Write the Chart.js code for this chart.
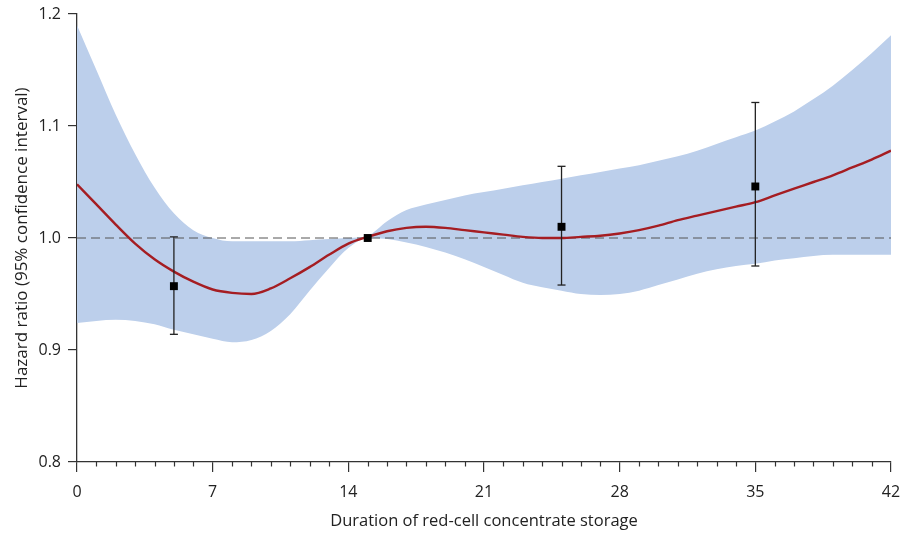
<!DOCTYPE html>
<html><head><meta charset="utf-8">
<script src="https://cdn.jsdelivr.net/npm/chart.js@4"></script>
<style>html,body{margin:0;padding:0;background:#fff}#wrap{width:906px;height:535px;position:relative}</style>
</head><body><div id="wrap"><canvas id="c" width="906" height="535"></canvas></div>
<script>
// ---- data ----
const days = [0,1,2,3,4,5,6,7,8,9,10,11,12,13,14,15,16,17,18,19,20,21,22,23,24,25,26,27,28,29,30,31,32,33,34,35,36,37,38,39,40,41,42];
const hrCurve = [1.048,1.030,1.012,0.995,0.981,0.970,0.961,0.954,0.951,0.950,0.955,0.964,0.974,0.985,0.995,1.001,1.006,1.009,1.010,1.009,1.007,1.005,1.003,1.001,1.000,1.000,1.001,1.002,1.004,1.007,1.011,1.016,1.020,1.024,1.028,1.032,1.038,1.044,1.050,1.056,1.063,1.070,1.078];
const ciUpper = [1.190,1.150,1.110,1.075,1.045,1.022,1.007,1.000,0.997,0.997,0.997,0.997,0.998,0.999,1.000,1.002,1.015,1.025,1.030,1.034,1.038,1.041,1.044,1.047,1.050,1.053,1.056,1.059,1.062,1.065,1.069,1.073,1.078,1.084,1.090,1.096,1.104,1.113,1.124,1.136,1.150,1.165,1.181];
const ciLower = [0.924,0.926,0.927,0.926,0.923,0.918,0.914,0.910,0.907,0.909,0.917,0.932,0.953,0.973,0.991,1.000,0.999,0.996,0.992,0.987,0.981,0.974,0.967,0.960,0.956,0.953,0.950,0.949,0.950,0.953,0.958,0.963,0.968,0.972,0.975,0.977,0.980,0.982,0.984,0.985,0.985,0.985,0.985];
const pointDays = [5,15,25,35];
const pointHR = [0.957,1.000,1.010,1.046];
const barLow = [0.914,null,0.958,0.975];
const barHigh = [1.001,null,1.064,1.121];
const xTicks = [0,7,14,21,28,35,42];
const yTicks = [0.8,0.9,1.0,1.1,1.2];
const refLine = 1.0;
const xTitle = 'Duration of red-cell concentrate storage';
const yTitle = 'Hazard ratio (95% confidence interval)';

const FONT = '"Open Sans", "DejaVu Sans", sans-serif';
const AX = '#333333';

const toXY = (xs, ys) => xs.map((x, i) => ({x: x, y: ys[i]}));

const datasets = [];
datasets.push({
  label: 'estimates', data: toXY(pointDays, pointHR), showLine: false,
  pointStyle: 'rect', pointRadius: 5.6, pointBackgroundColor: '#000', pointBorderWidth: 0, order: 0
});
pointDays.forEach((d, i) => {
  if (barLow[i] === null) return;
  datasets.push({
    label: 'ci' + i, data: [{x: d, y: barLow[i]}, {x: d, y: barHigh[i]}],
    borderColor: '#222', borderWidth: 1.3, pointStyle: 'line', pointRadius: 4,
    pointBorderColor: '#222', pointBorderWidth: 1.3, tension: 0, order: 1
  });
});
datasets.push({
  label: 'spline', data: toXY(days, hrCurve), borderColor: '#a51d22', borderWidth: 2.4,
  pointRadius: 0, cubicInterpolationMode: 'monotone', fill: false, order: 2
});
datasets.push({
  label: 'ref', data: [{x: days[0], y: refLine}, {x: days[days.length - 1], y: refLine}],
  borderColor: '#555', borderWidth: 1, borderDash: [9, 5], pointRadius: 0, fill: false, order: 3
});
const upperIdx = datasets.length;
datasets.push({
  label: 'upper', data: toXY(days, ciUpper), borderWidth: 0, borderColor: 'rgba(0,0,0,0)',
  pointRadius: 0, cubicInterpolationMode: 'monotone', backgroundColor: 'rgb(188,207,235)',
  fill: {target: upperIdx + 1}, order: 4
});
datasets.push({
  label: 'lower', data: toXY(days, ciLower), borderWidth: 0, borderColor: 'rgba(0,0,0,0)',
  pointRadius: 0, cubicInterpolationMode: 'monotone', fill: false, order: 5
});

const minorTicks = {
  id: 'minorTicks',
  afterDraw(chart) {
    const xs = chart.scales.x, ctx = chart.ctx, b = chart.chartArea.bottom;
    ctx.save();
    ctx.strokeStyle = AX; ctx.lineWidth = 1.2;
    days.forEach(d => {
      if (xTicks.includes(d)) return;
      const px = Math.round(xs.getPixelForValue(d)) + 0.5;
      ctx.beginPath(); ctx.moveTo(px, b); ctx.lineTo(px, b + 4.5); ctx.stroke();
    });
    ctx.restore();
  }
};

new Chart(document.getElementById('c'), {
  type: 'line',
  data: {datasets},
  plugins: [minorTicks],
  options: {
    responsive: false, animation: false, devicePixelRatio: 1,
    layout: {padding: {top: 14, right: 15, left: 0, bottom: 0}},
    plugins: {legend: {display: false}, tooltip: {enabled: false}},
    scales: {
      x: {
        type: 'linear', min: 0, max: 42,
        afterBuildTicks: s => { s.ticks = xTicks.map(v => ({value: v})); },
        afterFit: s => { s.height = 73; s.paddingLeft = 0; s.paddingRight = 0; },
        ticks: {color: '#222', padding: 11, font: {family: FONT, size: 16}, maxRotation: 0, callback: v => String(v)},
        grid: {drawOnChartArea: false, drawTicks: true, tickLength: 10, color: AX, lineWidth: 1.2},
        border: {display: true, color: AX, width: 1.3},
        title: {display: true, text: xTitle, color: '#222', font: {family: FONT, size: 16.5}, padding: {top: 0, bottom: 4}}
      },
      y: {
        type: 'linear', min: 0.8, max: 1.2,
        afterBuildTicks: s => { s.ticks = yTicks.map(v => ({value: v})); },
        afterFit: s => { s.width = 77; s.paddingTop = 0; s.paddingBottom = 0; },
        ticks: {color: '#222', padding: 7, font: {family: FONT, size: 16}, callback: v => Number(v).toFixed(1)},
        grid: {drawOnChartArea: false, drawTicks: true, tickLength: 9, color: AX, lineWidth: 1.2},
        border: {display: true, color: AX, width: 1.3},
        title: {display: true, text: yTitle, color: '#222', font: {family: FONT, size: 17}, padding: {top: 12, bottom: 0}}
      }
    }
  }
});
</script></body></html>
